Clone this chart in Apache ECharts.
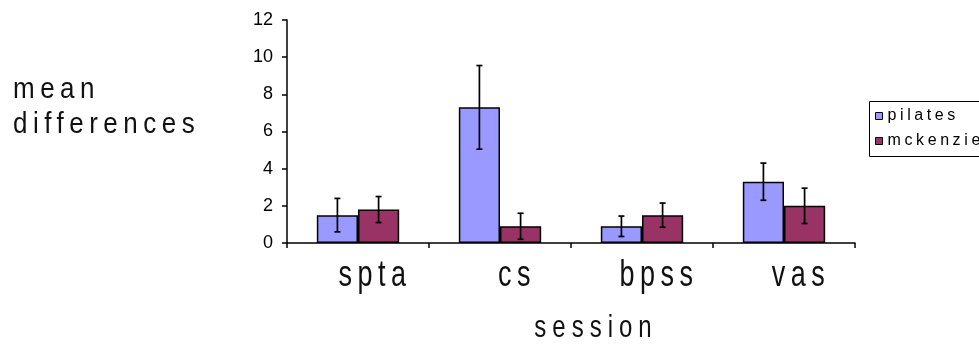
<!DOCTYPE html>
<html>
<head>
<meta charset="utf-8">
<script src="https://cdn.jsdelivr.net/npm/echarts@6/dist/echarts.min.js"></script>
<style>
  html, body { margin: 0; padding: 0; background: #ffffff; overflow: hidden; }
  #chart { width: 979px; height: 345px; }
</style>
</head>
<body>
<div id="chart"></div>
<script>
// Mean differences per session, with error bar half-widths
const categories = ['spta', 'cs', 'bpss', 'vas'];
const seriesNames = ['pilates', 'mckenzie'];
const pilatesMean = [1.5, 7.3, 0.9, 3.3];
const pilatesErr = [0.9, 2.25, 0.55, 1.0];
const mckenzieMean = [1.8, 0.9, 1.5, 2.0];
const mckenzieErr = [0.7, 0.7, 0.65, 0.95];
const yMin = 0;
const yMax = 12;
const yStep = 2;

// Tall, spaced-out lettering for the captions, keyed by font size:
// letter spacing in px and a vertical stretch around the text's middle line.
const textLook = {
  27: { spacing: 5.5, stretch: 1.4 },  // category labels
  24: { spacing: 6, stretch: 1.33 },   // x axis name
  26: { spacing: 5.5, stretch: 1.1 },  // y axis caption
  16: { spacing: 3.6, stretch: 1.0 }   // legend
};
(function () {
  const proto = CanvasRenderingContext2D.prototype;
  const baseFillText = proto.fillText;
  proto.fillText = function (text, x, y, maxWidth) {
    const m = /(\d+(?:\.\d+)?)px/.exec(this.font || '');
    const look = m ? textLook[Math.round(parseFloat(m[1]))] : null;
    if ('letterSpacing' in this) this.letterSpacing = look ? look.spacing + 'px' : '0px';
    if (look && look.stretch !== 1) {
      this.save();
      this.translate(x, y);
      this.scale(1, look.stretch);
      baseFillText.call(this, text, 0, 0);
      this.restore();
      return;
    }
    return maxWidth === undefined
      ? baseFillText.call(this, text, x, y)
      : baseFillText.call(this, text, x, y, maxWidth);
  };
})();

const FONT = 'Liberation Sans, Arial, sans-serif';
const CAT_GAP = 0.42;

function errorBars(name, means, errs, side) {
  return {
    type: 'custom',
    name: name,
    silent: true,
    z: 10,
    data: means.map((m, i) => [i, m - errs[i], m + errs[i]]),
    encode: { x: 0, y: [1, 2] },
    renderItem: function (params, api) {
      const idx = api.value(0);
      const lo = api.coord([idx, api.value(1)]);
      const hi = api.coord([idx, api.value(2)]);
      const band = api.size([1, 0])[0];
      const barW = band * (1 - CAT_GAP) / 2;
      const x = lo[0] + side * barW / 2;
      const cap = 3;
      const st = { stroke: '#000', lineWidth: 1.7 };
      return {
        type: 'group',
        children: [
          { type: 'line', shape: { x1: x, y1: hi[1], x2: x, y2: lo[1] }, style: st },
          { type: 'line', shape: { x1: x - cap, y1: hi[1], x2: x + cap, y2: hi[1] }, style: st },
          { type: 'line', shape: { x1: x - cap, y1: lo[1], x2: x + cap, y2: lo[1] }, style: st }
        ]
      };
    }
  };
}

const chart = echarts.init(document.getElementById('chart'), null, { renderer: 'canvas' });
chart.setOption({
  animation: false,
  backgroundColor: '#ffffff',
  title: {
    text: 'mean\ndifferences',
    left: 8,
    top: 68,
    textStyle: {
      fontFamily: FONT, fontSize: 26, fontWeight: 'normal',
      color: '#111', lineHeight: 35
    }
  },
  // legend frame: open on the right, it runs past the canvas edge
  graphic: [{
    type: 'polyline',
    silent: true,
    shape: { points: [[990, 101.5], [869.5, 101.5], [869.5, 156.5], [990, 156.5]] },
    style: { fill: null, stroke: '#000', lineWidth: 1 }
  }],
  legend: {
    data: seriesNames,
    orient: 'vertical',
    left: 869,
    top: 101,
    padding: [7, 4, 8, 6],
    itemGap: 9,
    itemWidth: 7,
    itemHeight: 7,
    icon: 'rect',
    itemStyle: { borderColor: '#000', borderWidth: 1 },
    textStyle: { fontFamily: FONT, fontSize: 16, color: '#000' }
  },
  grid: { left: 287, right: 124, top: 20, bottom: 101 },
  xAxis: {
    type: 'category',
    data: categories,
    name: 'session',
    nameLocation: 'middle',
    nameGap: 73,
    nameTextStyle: { fontFamily: FONT, fontSize: 24, color: '#111', padding: [0, 0, 0, 50] },
    axisLine: { lineStyle: { color: '#000', width: 1.5 } },
    axisTick: { show: true, length: 5, alignWithLabel: false, lineStyle: { color: '#000', width: 1.5 } },
    axisLabel: { fontFamily: FONT, fontSize: 27, color: '#111', margin: 19, padding: [0, 0, 0, 34] }
  },
  yAxis: {
    type: 'value',
    min: yMin,
    max: yMax,
    interval: yStep,
    axisLine: { show: true, lineStyle: { color: '#000', width: 1.5 } },
    axisTick: { show: true, length: 5, lineStyle: { color: '#000', width: 1.5 } },
    splitLine: { show: false },
    axisLabel: { fontFamily: FONT, fontSize: 18, color: '#000', margin: 14 }
  },
  series: [
    {
      type: 'bar',
      name: seriesNames[0],
      data: pilatesMean,
      barGap: '0%',
      barCategoryGap: (CAT_GAP * 100) + '%',
      itemStyle: { color: '#9999ff', borderColor: '#000', borderWidth: 1.5 }
    },
    {
      type: 'bar',
      name: seriesNames[1],
      data: mckenzieMean,
      barGap: '0%',
      barCategoryGap: (CAT_GAP * 100) + '%',
      itemStyle: { color: '#993366', borderColor: '#000', borderWidth: 1.5 }
    },
    errorBars('pilates error', pilatesMean, pilatesErr, -1),
    errorBars('mckenzie error', mckenzieMean, mckenzieErr, 1)
  ]
});
</script>
</body>
</html>
